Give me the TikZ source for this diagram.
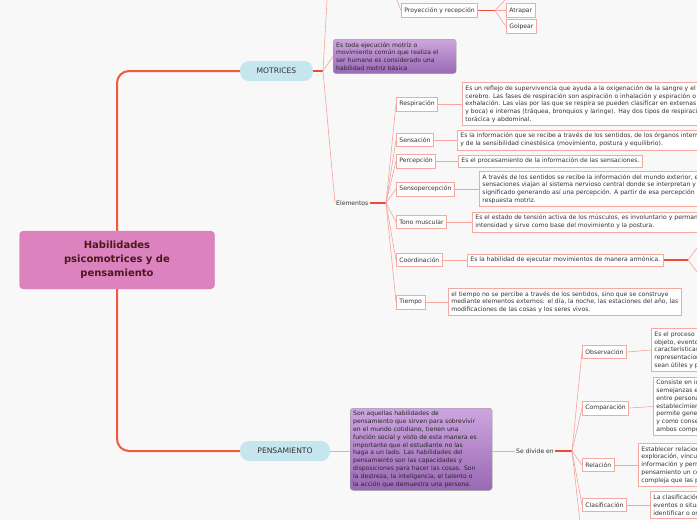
\documentclass[tikz,border=0pt]{standalone}
\usepackage{fontspec}
\setmainfont{DejaVu Sans}
\usetikzlibrary{positioning,calc}
\definecolor{bgc}{HTML}{F8F8F8}
\definecolor{rootc}{HTML}{DB82BF}
\definecolor{roottxt}{HTML}{4A1A1A}
\definecolor{pillc}{HTML}{C5E5EF}
\definecolor{linec}{HTML}{F6A49C}
\definecolor{hubc}{HTML}{EE4A3A}
\definecolor{trunkc}{HTML}{F25A3A}
\definecolor{bordc}{HTML}{F5A8A0}
\definecolor{purtop}{HTML}{CDA6DF}
\definecolor{purbot}{HTML}{9A68B4}
\definecolor{txtc}{HTML}{333333}
\tikzset{
root/.style = {draw=rootc, fill=rootc, rounded corners=4pt, minimum width=195pt, minimum height=58pt, align=center, text=roottxt, font=\fontsize{10}{14}\selectfont\bfseries},
pill/.style = {fill=pillc, rounded corners=9pt, minimum height=20pt, text=txtc, font=\fontsize{7.6}{9}\selectfont},
note/.style = {draw=gray!80, top color=purtop, bottom color=purbot, rounded corners=3pt, align=left, anchor=north west, inner sep=3pt, text=black!85, font=\fontsize{6.1}{7.8}\selectfont},
item/.style = {draw=bordc, fill=white, line width=0.8pt, anchor=west, inner xsep=3pt, inner ysep=4pt, text=txtc, font=\fontsize{6.1}{7.8}\selectfont},
desc/.style = {item, align=left, inner sep=3pt},
plain/.style = {anchor=west, inner sep=1pt, text=txtc, font=\fontsize{6.1}{7.8}\selectfont},
link/.style = {draw=linec, line width=0.6pt},
hub/.style = {draw=hubc, line width=1.2pt},
trunk/.style = {draw=trunkc, line width=2pt, rounded corners=12pt}
}
\begin{document}
\begin{tikzpicture}[x=1pt,y=-1pt]
\fill[bgc] (0,0) rectangle (697,520);
\useasboundingbox (0,0) rectangle (697,520);
\clip (0,0) rectangle (697,520);
% root and main branches
\node[root] (root) at (117,260) {Habilidades\\psicomotrices y de\\pensamiento};
\node[pill, minimum width=73pt] (mot) at (276.5,71) {MOTRICES};
\node[pill, minimum width=90pt] (pen) at (285,451) {PENSAMIENTO};
\draw[trunk] (root.north) |- (mot.west);
\draw[trunk] (root.south) |- (pen.west);
% motrices
\coordinate (mhub) at (323,71);
\coordinate (mtop) at (327,0);
\node[note, text width=117pt] (mnote) at (333,39) {Es toda ejecución motriz o\\movimiento común que realiza el\\ser humano es considerado una\\habilidad motriz básica};
\node[plain] (elem) at (335,203) {Elementos};
\draw[hub] (mot.east) -- (mhub);
\draw[link] (mhub) -- (mtop) (mhub) -- (mnote.west) (mhub) -- (elem.west);
% top, partly off the page
\node[item] (proy) at (401,10.5) {Proyección y recepción};
\node[item] (atr) at (506,10.5) {Atrapar};
\node[item] (gol) at (506,26.5) {Golpear};
\coordinate (phub) at (495,10.5);
\coordinate (ptop) at (505,0);
\coordinate (ltop) at (397,0);
\draw[hub] (proy.east) -- (phub);
\draw[link] (phub) -- (atr.west) (phub) -- (gol.west) (phub) -- (ptop);
\draw[link] (proy.west) -- (ltop);
% elementos
\coordinate (ehub) at (386,203);
\draw[hub] (elem.east) -- (ehub);
\foreach \nm/\yy/\txt in {resp/104/Respiración, sens/140/Sensación, perc/161/Percepción, sper/189/Sensopercepción, tono/222/Tono muscular, coor/260/Coordinación, tiem/302/Tiempo}{
  \node[item] (\nm) at (396,\yy) {\txt};
  \draw[link] (ehub) -- (\nm.west);
}
\node[desc] (respd) at (462,104) {Es un reflejo de supervivencia que ayuda a la oxigenación de la sangre y el\\cerebro. Las fases de respiración son aspiración o inhalación y espiración o\\exhalación. Las vías por las que se respira se pueden clasificar en externas (nariz\\y boca) e internas (tráquea, bronquios y laringe). Hay dos tipos de respiración:\\torácica y abdominal.};
\node[desc] (sensd) at (457,140) {Es la información que se recibe a través de los sentidos, de los órganos internos\\y de la sensibilidad cinestésica (movimiento, postura y equilibrio).};
\node[desc] (percd) at (458,161) {Es el procesamiento de la información de las sensaciones.};
\node[desc] (sperd) at (479,189) {A través de los sentidos se recibe la información del mundo exterior, estas\\sensaciones viajan al sistema nervioso central donde se interpretan y se les da\\significado generando así una percepción. A partir de esa percepción se da una\\respuesta motriz.};
\node[desc] (tonod) at (472,222) {Es el estado de tensión activa de los músculos, es involuntario y permanente en su\\intensidad y sirve como base del movimiento y la postura.};
\node[desc] (coord) at (467,260) {Es la habilidad de ejecutar movimientos de manera armónica.};
\node[desc] (tiemd) at (448,302) {el tiempo no se percibe a través de los sentidos, sino que se construye\\mediante elementos externos: el día, la noche, las estaciones del año, las\\modificaciones de las cosas y los seres vivos.};
\foreach \nm in {resp, sens, perc, sper, tono, coor, tiem}
  \draw[link] (\nm.east) -- (\nm d.west);
\coordinate (chub) at (688,260);
\draw[hub] (coord.east) -- (chub);
\draw[link] (chub) -- (700,244) (chub) -- (700,276);
% pensamiento
\node[note, text width=136pt] (pnote) at (350,408) {Son aquellas habilidades de\\pensamiento que sirven para sobrevivir\\en el mundo cotidiano, tienen una\\función social y visto de esta manera es\\importante que el estudiante no las\\haga a un lado. Las habilidades del\\pensamiento son las capacidades y\\disposiciones para hacer las cosas. Son\\la destreza, la inteligencia, el talento o\\la acción que demuestra una persona.};
\node[plain] (divi) at (515,451) {Se divide en};
\draw[link] (pen.east) -- (pnote.west |- pen.east);
\draw[link] (pnote.east |- divi.west) -- (divi.west);
\coordinate (dhub) at (572,451);
\coordinate (dbot) at (580,522);
\draw[hub] (divi.east) -- (dhub);
\draw[link] (dhub) -- (dbot);
\foreach \nm/\yy/\txt in {obse/352/Observación, comp/408/Comparación, rela/465/Relación, clas/505/Clasificación}{
  \node[item] (\nm) at (582,\yy) {\txt};
  \draw[link] (dhub) -- (\nm.west);
}
\node[desc] (obsed) at (651,350) {Es el proceso mental de fijar la atención en un\\objeto, evento o situación, para identificar sus\\características y sus detalles y poder hacer\\ representaciones mentales que luego\\sean útiles y puedan ser recordadas.};
\node[desc] (compd) at (653,406.5) {Consiste en identificar las diferencias y\\semejanzas entre objetos, eventos o situaciones\\ entre personas, y el\\establecimiento de relaciones; esto\\permite generar conocimientos nuevos\\y como consecuencia la comprensión de\\ ambos componentes.};
\node[desc] (relad) at (638,465) {Establecer relaciones es un proceso de\\exploración, vinculación e integración de la\\ información y permite construir en el\\pensamiento un conocimiento más\\compleja que las partes por separado.};
\node[desc] (clasd) at (650,505) {La clasificación permite agrupar objetos,\\eventos o situaciones según sus atributos e\\identificar o ordenar sus características.};
\foreach \nm in {obse, comp, rela, clas}
  \draw[link] (\nm.east) -- (\nm d.west);
\end{tikzpicture}
\end{document}
